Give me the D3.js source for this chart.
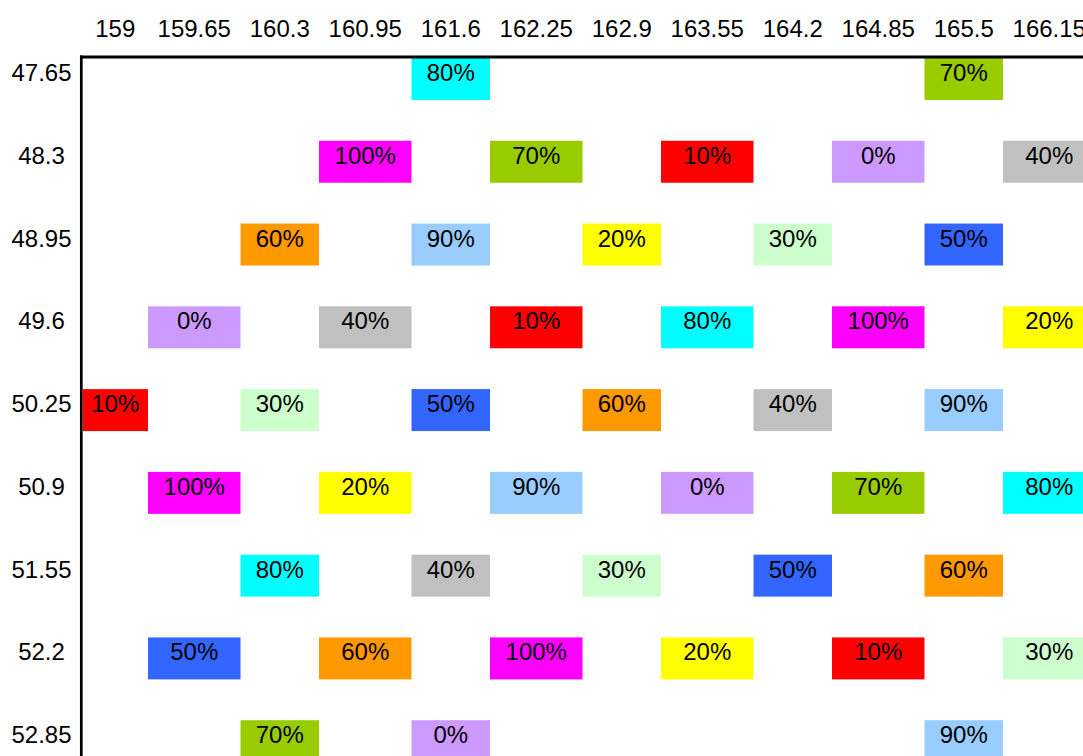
<!DOCTYPE html>
<html>
<head>
<meta charset="utf-8">
<script src="https://cdn.jsdelivr.net/npm/d3@7"></script>
<style>
  html, body { margin: 0; padding: 0; background: #fff; overflow: hidden; }
  svg { display: block; }
  text { font-family: "Liberation Sans", Arial, sans-serif; font-size: 24px; fill: #000; }
</style>
</head>
<body>
<svg id="chart" width="1083" height="756"></svg>
<script>
// Column (top) and row (left) tick values
const xTicks = [159, 159.65, 160.3, 160.95, 161.6, 162.25, 162.9, 163.55, 164.2, 164.85, 165.5, 166.15];
const yTicks = [47.65, 48.3, 48.95, 49.6, 50.25, 50.9, 51.55, 52.2, 52.85];

// Cells: one list per row, giving column value and percentage
const row4765 = [[161.6, 80], [165.5, 70]];
const row4830 = [[160.95, 100], [162.25, 70], [163.55, 10], [164.85, 0], [166.15, 40]];
const row4895 = [[160.3, 60], [161.6, 90], [162.9, 20], [164.2, 30], [165.5, 50]];
const row4960 = [[159.65, 0], [160.95, 40], [162.25, 10], [163.55, 80], [164.85, 100], [166.15, 20]];
const row5025 = [[159, 10], [160.3, 30], [161.6, 50], [162.9, 60], [164.2, 40], [165.5, 90]];
const row5090 = [[159.65, 100], [160.95, 20], [162.25, 90], [163.55, 0], [164.85, 70], [166.15, 80]];
const row5155 = [[160.3, 80], [161.6, 40], [162.9, 30], [164.2, 50], [165.5, 60]];
const row5220 = [[159.65, 50], [160.95, 60], [162.25, 100], [163.55, 20], [164.85, 10], [166.15, 30]];
const row5285 = [[160.3, 70], [161.6, 0], [165.5, 90]];
const rowCells = [row4765, row4830, row4895, row4960, row5025, row5090, row5155, row5220, row5285];

// Percentage categories and their fill colours
const pctLevels = [0, 10, 20, 30, 40, 50, 60, 70, 80, 90, 100];
const pctColors = ["#cc99ff", "#ff0000", "#ffff00", "#ccffcc", "#c0c0c0", "#3366ff",
                   "#ff9900", "#99cc00", "#00ffff", "#99ccff", "#ff00ff"];

const cells = [];
rowCells.forEach((row, ri) => row.forEach(([xv, p]) => cells.push({ x: xv, y: yTicks[ri], p })));

const svg = d3.select("#chart");
const plotLeft = 82.6, plotTop = 57;

const x = d3.scaleLinear().domain([xTicks[0], xTicks[xTicks.length - 1]]).range([108.75, 1049.25]);
const y = d3.scaleLinear().domain([yTicks[0], yTicks[yTicks.length - 1]]).range([58, 720.2]);
const color = d3.scaleOrdinal().domain(pctLevels).range(pctColors);

const xStep = x(xTicks[1]) - x(xTicks[0]);
const yStep = y(yTicks[1]) - y(yTicks[0]);
const rectH = yStep * 0.507;
const baseOff = 23;

// alternating column widths
function colIndex(v) { return Math.round((v - xTicks[0]) / (xTicks[1] - xTicks[0])); }
function colW(v) { return xStep * (colIndex(v) % 2 ? 1.082 : 0.918); }
function colL(v) { return Math.max(plotLeft, x(v) - colW(v) / 2); }
function colR(v) { return x(v) + colW(v) / 2; }
function colMid(v) { return (colL(v) + colR(v)) / 2; }

svg.append("defs").append("clipPath").attr("id", "plotClip")
  .append("rect").attr("x", plotLeft).attr("y", plotTop).attr("width", 2000).attr("height", 2000);

const plot = svg.append("g").attr("clip-path", "url(#plotClip)");

plot.selectAll("rect.cell").data(cells).join("rect")
  .attr("class", "cell")
  .attr("x", d => colL(d.x))
  .attr("y", d => y(d.y))
  .attr("width", d => colR(d.x) - colL(d.x))
  .attr("height", rectH)
  .attr("fill", d => color(d.p));

plot.selectAll("text.cellLabel").data(cells).join("text")
  .attr("class", "cellLabel")
  .attr("x", d => colMid(d.x))
  .attr("y", d => y(d.y) + baseOff)
  .attr("text-anchor", "middle")
  .text(d => d.p + "%");

// top tick labels
svg.append("g").selectAll("text").data(xTicks).join("text")
  .attr("x", d => colMid(d))
  .attr("y", 37)
  .attr("text-anchor", "middle")
  .text(d => d);

// left tick labels
svg.append("g").selectAll("text").data(yTicks).join("text")
  .attr("x", 41.5)
  .attr("y", d => y(d) + baseOff)
  .attr("text-anchor", "middle")
  .text(d => d);

// axis lines
svg.append("line").attr("x1", 80).attr("x2", 1083).attr("y1", 57).attr("y2", 57)
  .attr("stroke", "#000").attr("stroke-width", 3);
svg.append("line").attr("x1", 81.3).attr("x2", 81.3).attr("y1", 55.5).attr("y2", 756)
  .attr("stroke", "#000").attr("stroke-width", 2.7);
</script>
</body>
</html>
